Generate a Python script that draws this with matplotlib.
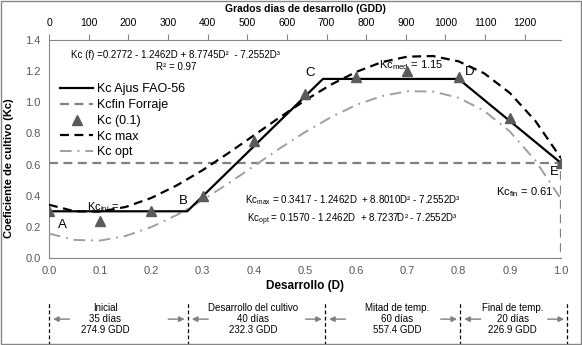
import matplotlib
matplotlib.use("Agg")
import matplotlib.pyplot as plt
import matplotlib.transforms as mtransforms
from matplotlib.patches import Rectangle

plt.rcParams["font.family"] = ["Liberation Sans", "DejaVu Sans"]
plt.rcParams["mathtext.default"] = "regular"

# --- data ---
# FAO-56 adjusted Kc curve (points A..E)
fao_d = [0.0, 0.27, 0.535, 0.80, 1.0]
fao_kc = [0.30, 0.30, 1.15, 1.15, 0.61]

# Kc fin (forraje) reference line
kcfin_d = [0.0, 1.0, 1.0]
kcfin_kc = [0.61, 0.61, 0.0]

# measured Kc every 0.1 of development
obs_d = [0.0, 0.1, 0.2, 0.3, 0.4, 0.5, 0.6, 0.7, 0.8, 0.9, 1.0]
obs_kc = [0.30, 0.24, 0.30, 0.40, 0.75, 1.05, 1.16, 1.20, 1.16, 0.90, 0.61]

# Kc max / Kc opt curves
curve_d = [0.0, 0.05, 0.10, 0.15, 0.20, 0.25, 0.30, 0.35, 0.40, 0.45, 0.50,
           0.55, 0.60, 0.65, 0.70, 0.75, 0.80, 0.85, 0.90, 0.95, 1.0]
kcmax = [0.342, 0.300, 0.298, 0.328, 0.386, 0.467, 0.564, 0.673, 0.787, 0.902, 1.012,
         1.112, 1.195, 1.258, 1.293, 1.297, 1.263, 1.186, 1.060, 0.880, 0.641]
kcopt = [0.157, 0.116, 0.112, 0.142, 0.199, 0.277, 0.372, 0.478, 0.590, 0.702, 0.808,
         0.903, 0.983, 1.040, 1.071, 1.069, 1.029, 0.945, 0.813, 0.626, 0.379]

# growth stages
stage_names = ["Inicial", "Desarrollo del cultivo", "Mitad de temp.", "Final de temp."]
stage_days = [35, 40, 60, 20]
stage_gdd = [274.9, 232.3, 557.4, 226.9]
stage_bounds = [0.0, 0.271, 0.539, 0.803, 1.012]
stage_text_x = [0.110, 0.398, 0.680, 0.906]

gdd_ticks = [0, 100, 200, 300, 400, 500, 600, 700, 800, 900, 1000, 1100, 1200]
gdd_total = sum(stage_gdd)

fig = plt.figure(figsize=(5.82, 3.45), dpi=100)
ax = fig.add_axes([49 / 582, 1 - 258 / 345, 512 / 582, 218 / 345])

ax.plot(fao_d, fao_kc, color="black", lw=1.6, label="Kc Ajus FAO-56", zorder=4)
ax.plot(kcfin_d, kcfin_kc, color="#808080", lw=1.6, ls=(0, (4, 2.5)),
        label="Kcfin Forraje", zorder=2)
ax.plot(obs_d, obs_kc, ls="none", marker="^", ms=7, color="#5a5a5a",
        label="Kc (0.1)", zorder=5)
ax.plot(curve_d, kcmax, color="black", lw=1.6, ls=(0, (4, 2.5)), label="Kc max", zorder=3)
ax.plot(curve_d, kcopt, color="#a0a0a0", lw=1.4, ls=(0, (6, 3, 1, 3)),
        label="Kc opt", zorder=3)

ax.set_xlim(0, 1.0)
ax.set_ylim(0, 1.4)
ax.set_xticks([i / 10 for i in range(11)])
ax.set_yticks([i / 5 for i in range(8)])
ax.xaxis.set_major_formatter(plt.FormatStrFormatter("%.1f"))
ax.yaxis.set_major_formatter(plt.FormatStrFormatter("%.1f"))
ax.tick_params(axis="both", length=0, labelsize=8, labelcolor="#595959", pad=6)
for s in ["top", "right"]:
    ax.spines[s].set_visible(False)
for s in ["left", "bottom"]:
    ax.spines[s].set_color("#868686")
    ax.spines[s].set_linewidth(0.8)
ax.set_xlabel("Desarrollo (D)", fontsize=8.5, fontweight="bold", labelpad=3)

# top GDD axis
ax2 = ax.twiny()
ax2.set_xlim(0, gdd_total)
ax2.set_xticks(gdd_ticks)
for s in ["left", "right", "bottom"]:
    ax2.spines[s].set_visible(False)
ax2.spines["top"].set_color("#868686")
ax2.spines["top"].set_linewidth(0.8)
ax2.tick_params(axis="x", length=4, width=0.8, color="#868686", labelsize=7.5, pad=5)
ax2.set_xlabel("Grados dias de desarrollo (GDD)", fontsize=7.5, fontweight="bold", labelpad=4)

fig.text(9 / 582, 1 - 168 / 345, "Coeficiente de cultivo (Kc)", rotation=90,
         ha="center", va="center", fontsize=8, fontweight="bold")

leg = ax.legend(loc="upper left", bbox_to_anchor=(0.016, 0.812), frameon=False,
                fontsize=9, handlelength=2.7, handletextpad=0.3, labelspacing=0.3,
                borderaxespad=0, borderpad=0.2)

# annotations
ax.text(0.246, 1.304, "Kc (f) =0.2772 - 1.2462D + 8.7745D²  - 7.2552D³",
        ha="center", va="center", fontsize=7)
ax.text(0.248, 1.227, "R² = 0.97", ha="center", va="center", fontsize=7)
ax.text(0.383, 0.372, "Kc$_{max}$ = 0.3417 - 1.2462D  + 8.8010D² - 7.2552D³",
        ha="left", va="center", fontsize=7)
ax.text(0.387, 0.244, "Kc$_{opt}$ = 0.1570 - 1.2462D  + 8.7237D² - 7.2552D³",
        ha="left", va="center", fontsize=7)
ax.text(0.074, 0.328, "Kc$_{ini}$ =", ha="left", va="center", fontsize=8)
ax.text(0.644, 1.24, "Kc$_{med}$ = 1.15", ha="left", va="center", fontsize=8)
ax.text(0.873, 0.424, "Kc$_{fin}$ = 0.61", ha="left", va="center", fontsize=8)

for lab, x, y in [("A", 0.027, 0.212), ("B", 0.262, 0.366), ("C", 0.510, 1.189),
                  ("D", 0.822, 1.195), ("E", 0.986, 0.552)]:
    ax.text(x, y, lab, ha="center", va="center", fontsize=9.5)

# growth stage band below the chart
trans = mtransforms.blended_transform_factory(ax.transData, fig.transFigure)
for b in stage_bounds:
    ax.plot([b, b], [0.0, 0.125], transform=trans, clip_on=False, color="black",
            lw=0.9, ls=(0, (3, 2)))
for i in range(len(stage_names)):
    xc = stage_text_x[i]
    lines = [stage_names[i], f"{stage_days[i]} días", f"{stage_gdd[i]} GDD"]
    for j, t in enumerate(lines):
        ax.text(xc, 0.107 - 0.032 * j, t, transform=trans, ha="center", va="center",
                fontsize=7)
    left = stage_bounds[i]
    right = stage_bounds[i + 1]
    arrow = dict(arrowstyle="-|>", color="#808080", lw=1, mutation_scale=8,
                 shrinkA=0, shrinkB=0)
    ax.annotate("", xy=(left + 0.008, 0.075), xytext=(left + 0.04, 0.075),
                xycoords=trans, textcoords=trans, arrowprops=arrow, annotation_clip=False)
    ax.annotate("", xy=(right - 0.006, 0.075), xytext=(right - 0.038, 0.075),
                xycoords=trans, textcoords=trans, arrowprops=arrow, annotation_clip=False)

fig.add_artist(Rectangle((0.001, 0.002), 0.997, 0.996, transform=fig.transFigure,
                         fill=False, edgecolor="#868686", lw=1))

fig.savefig("out.png", dpi=100)
